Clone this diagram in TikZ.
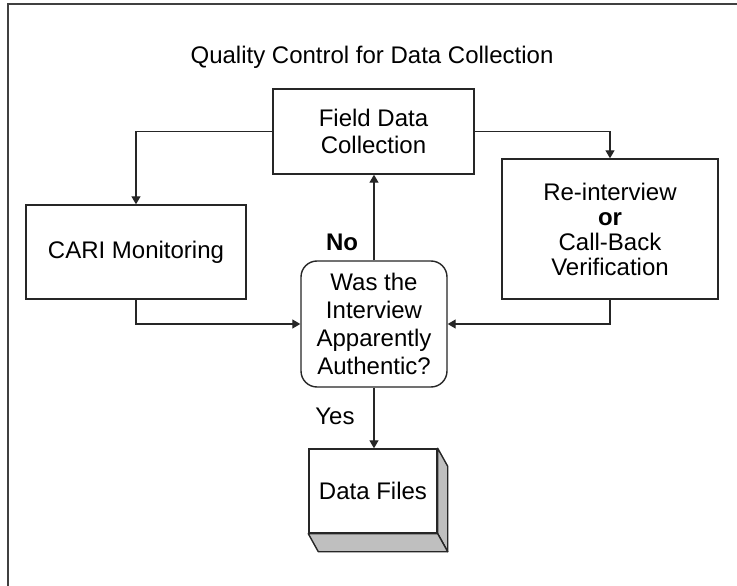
\documentclass[tikz,border=0pt]{standalone}
\usepackage{fontspec}
\setmainfont{Liberation Sans}
\usetikzlibrary{arrows.meta,calc}
\tikzset{
  box/.style={draw=black!85, line width=1.4pt, fill=white, inner sep=0pt, align=center, font=\fontsize{24}{27}\selectfont},
  arr/.style={draw=black!85, line width=1.3pt, -{Triangle[length=8pt,width=9pt]}},
  lbl/.style={inner sep=0pt, font=\fontsize{24}{27}\selectfont},
  side/.style={draw=black!85, line width=1.4pt, fill=black!25, line join=round}
}
\begin{document}
\begin{tikzpicture}[x=1pt,y=-1pt]
\useasboundingbox (0,0) rectangle (737,586);
\draw[line width=2.2pt, black!75] (8,590) -- (8,4) -- (740,4);
\node[lbl] (title) at (372,57) {Quality Control for Data Collection};
\node[box, minimum width=201pt, minimum height=85pt] (field) at (373.5,131.5) {Field Data\\Collection};
\node[box, minimum width=220pt, minimum height=94pt] (cari) at (136,252) {CARI Monitoring};
\node[box, minimum width=216pt, minimum height=140pt, font=\fontsize{24}{25}\selectfont] (reint) at (610,229) {\raisebox{0pt}{Re-interview}\\\textbf{or}\\Call-Back\\Verification};
\node[box, rounded corners=16pt, minimum width=146pt, minimum height=126pt, font=\fontsize{24}{28}\selectfont] (dec) at (374,324) {Was the\\Interview\\Apparently\\Authentic?};
\node[box, minimum width=128pt, minimum height=84pt] (data) at (373,491) {Data Files};
\draw[side] (data.north east) -- ($(data.north east)+(10,18)$) -- ($(data.south east)+(10,18)$) -- (data.south east) -- cycle;
\draw[side] (data.south west) -- (data.south east) -- ($(data.south east)+(10,18)$) -- ($(data.south west)+(10,18)$) -- cycle;
\draw[arr] (field.west) -| (cari.north);
\draw[arr] (field.east) -| (reint.north);
\draw[arr] (cari.south) |- (dec.west);
\draw[arr] (reint.south) |- (dec.east);
\draw[arr] (dec.north) -- (dec.north |- field.south);
\draw[arr] (dec.south) -- (dec.south |- data.north);
\node[lbl, font=\bfseries\fontsize{24}{27}\selectfont] (no) at (342,242) {No};
\node[lbl] (yes) at (335,416) {Yes};
\end{tikzpicture}
\end{document}
